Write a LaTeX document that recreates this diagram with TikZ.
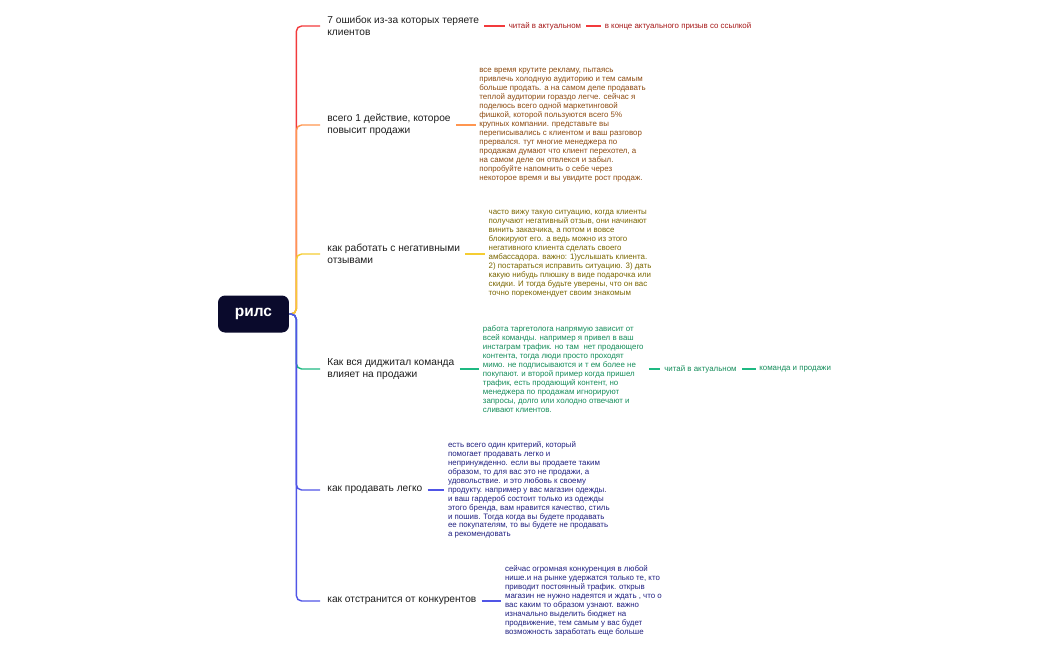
\documentclass[tikz,border=0pt]{standalone}
\usepackage{fontspec}
\setmainfont{Liberation Sans}
\usepackage{xcolor}
\usetikzlibrary{positioning}
\definecolor{rootBg}{HTML}{0A0A2C}
\definecolor{topicTxt}{HTML}{1E1E1E}
\definecolor{cRed}{HTML}{F23A3C}
\definecolor{cOrange}{HTML}{FF9650}
\definecolor{cYellow}{HTML}{F5CD32}
\definecolor{cGreen}{HTML}{1EB982}
\definecolor{cBlue}{HTML}{5055E6}
\definecolor{tRed}{HTML}{A51616}
\definecolor{tBrown}{HTML}{8C4A10}
\definecolor{tOlive}{HTML}{7A6600}
\definecolor{tGreen}{HTML}{148C5A}
\definecolor{tNavy}{HTML}{202080}
\tikzset{
  topic/.style = {anchor=west, inner sep=0pt, align=left, text=topicTxt,
                  font=\fontsize{5.8pt}{6.9pt}\selectfont},
  note/.style  = {inner sep=0pt, align=left,
                  font=\fontsize{4.5pt}{5.1pt}\selectfont},
  trunk/.style = {line width=0.8pt, rounded corners=3pt, shorten >=0.14cm},
  leaf/.style  = {line width=0.75pt, shorten <=0.1cm, shorten >=0.07cm},
}
\begin{document}
\begin{tikzpicture}[x=0.02cm, y=-0.02cm, node distance=0.56cm and 0.56cm]
  \useasboundingbox (0,0) rectangle (1050,650);
  \node[fill=rootBg, rounded corners=4pt, minimum width=1.42cm, minimum height=0.74cm,
        text=white, font=\bfseries\fontsize{8.8pt}{10pt}\selectfont] (reels) at (253.5,314) {рилс};
  \node[topic] (err)    at (327,26)  {7 ошибок из-за которых теряете\\клиентов};
  \node[topic] (act)    at (327,125) {всего 1 действие, которое\\повысит продажи};
  \node[topic] (neg)    at (327,254) {как работать с негативными\\отзывами};
  \node[topic] (team)   at (327,369) {Как вся диджитал команда\\влияет на продажи};
  \node[topic] (easy)   at (327,490) {как продавать легко};
  \node[topic] (rivals) at (327,601) {как отстранится от конкурентов};

  \node[note, text=tRed, right=0.58cm of err] (errRead) {читай в актуальном};
  \node[note, text=tRed, right=0.46cm of errRead] (errLink) {в конце актуального призыв со ссылкой};
  \node[note, text=tBrown, right=of act] (actTxt) {все время крутите рекламу, пытаясь\\
    привлечь холодную аудиторию и тем самым\\
    больше продать. а на самом деле продавать\\
    теплой аудитории гораздо легче. сейчас я\\
    поделюсь всего одной маркетинговой\\
    фишкой, которой пользуются всего 5\%\\
    крупных компании. представьте вы\\
    переписывались с клиентом и ваш разговор\\
    прервался. тут многие менеджера по\\
    продажам думают что клиент перехотел, а\\
    на самом деле он отвлекся и забыл.\\
    попробуйте напомнить о себе через\\
    некоторое время и вы увидите рост продаж.};
  \node[note, text=tOlive, right=of neg] (negTxt) {часто вижу такую ситуацию, когда клиенты\\
    получают негативный отзыв, они начинают\\
    винить заказчика, а потом и вовсе\\
    блокируют его. а ведь можно из этого\\
    негативного клиента сделать своего\\
    амбассадора. важно: 1)услышать клиента.\\
    2) постараться исправить ситуацию. 3) дать\\
    какую нибудь плюшку в виде подарочка или\\
    скидки. И тогда будьте уверены, что он вас\\
    точно порекомендует своим знакомым};
  \node[note, text=tGreen, right=of team] (teamTxt) {работа таргетолога напрямую зависит от\\
    всей команды. например я привел в ваш\\
    инстаграм трафик. но там~ нет продающего\\
    контента, тогда люди просто проходят\\
    мимо. не подписываются и т ем более не\\
    покупают. и второй пример когда пришел\\
    трафик, есть продающий контент, но\\
    менеджера по продажам игнорируют\\
    запросы, долго или холодно отвечают и\\
    сливают клиентов.};
  \node[note, text=tGreen, right=0.40cm of teamTxt] (teamRead) {читай в актуальном};
  \node[note, text=tGreen, right=0.44cm of teamRead] (teamSales) {команда и продажи};
  \node[note, text=tNavy, right=0.5cm of easy] (easyTxt) {есть всего один критерий, который\\
    помогает продавать легко и\\
    непринужденно. если вы продаете таким\\
    образом, то для вас это не продажи, а\\
    удовольствие. и это любовь к своему\\
    продукту. например у вас магазин одежды.\\
    и ваш гардероб состоит только из одежды\\
    этого бренда, вам нравится качество, стиль\\
    и пошив. Тогда когда вы будете продавать\\
    ее покупателям, то вы будете не продавать\\
    а рекомендовать};
  \node[note, text=tNavy, right=of rivals] (rivalsTxt) {сейчас огромная конкуренция в любой\\
    нише.и на рынке удержатся только те, кто\\
    приводит постоянный трафик. открыв\\
    магазин не нужно надеятся и ждать , что о\\
    вас каким то образом узнают. важно\\
    изначально выделить бюджет на\\
    продвижение, тем самым у вас будет\\
    возможность заработать еще больше};

  \draw[trunk, cRed]    (reels.east) -- ++(7,0) |- (err.west);
  \draw[trunk, cOrange] (reels.east) -- ++(7,0) |- (act.west);
  \draw[trunk, cYellow] (reels.east) -- ++(7,0) |- (neg.west);
  \draw[trunk, cGreen]  (reels.east) -- ++(7,0) |- (team.west);
  \draw[trunk, cBlue]   (reels.east) -- ++(7,0) |- (easy.west);
  \draw[trunk, cBlue]   (reels.east) -- ++(7,0) |- (rivals.west);

  \draw[leaf, cRed]    (err) -- (errRead);
  \draw[leaf, cRed]    (errRead) -- (errLink);
  \draw[leaf, cOrange] (act) -- (actTxt);
  \draw[leaf, cYellow] (neg) -- (negTxt);
  \draw[leaf, cGreen]  (team) -- (teamTxt);
  \draw[leaf, cGreen]  (teamTxt) -- (teamRead);
  \draw[leaf, cGreen]  (teamRead) -- (teamSales);
  \draw[leaf, cBlue]   (easy) -- (easyTxt);
  \draw[leaf, cBlue]   (rivals) -- (rivalsTxt);
\end{tikzpicture}
\end{document}
